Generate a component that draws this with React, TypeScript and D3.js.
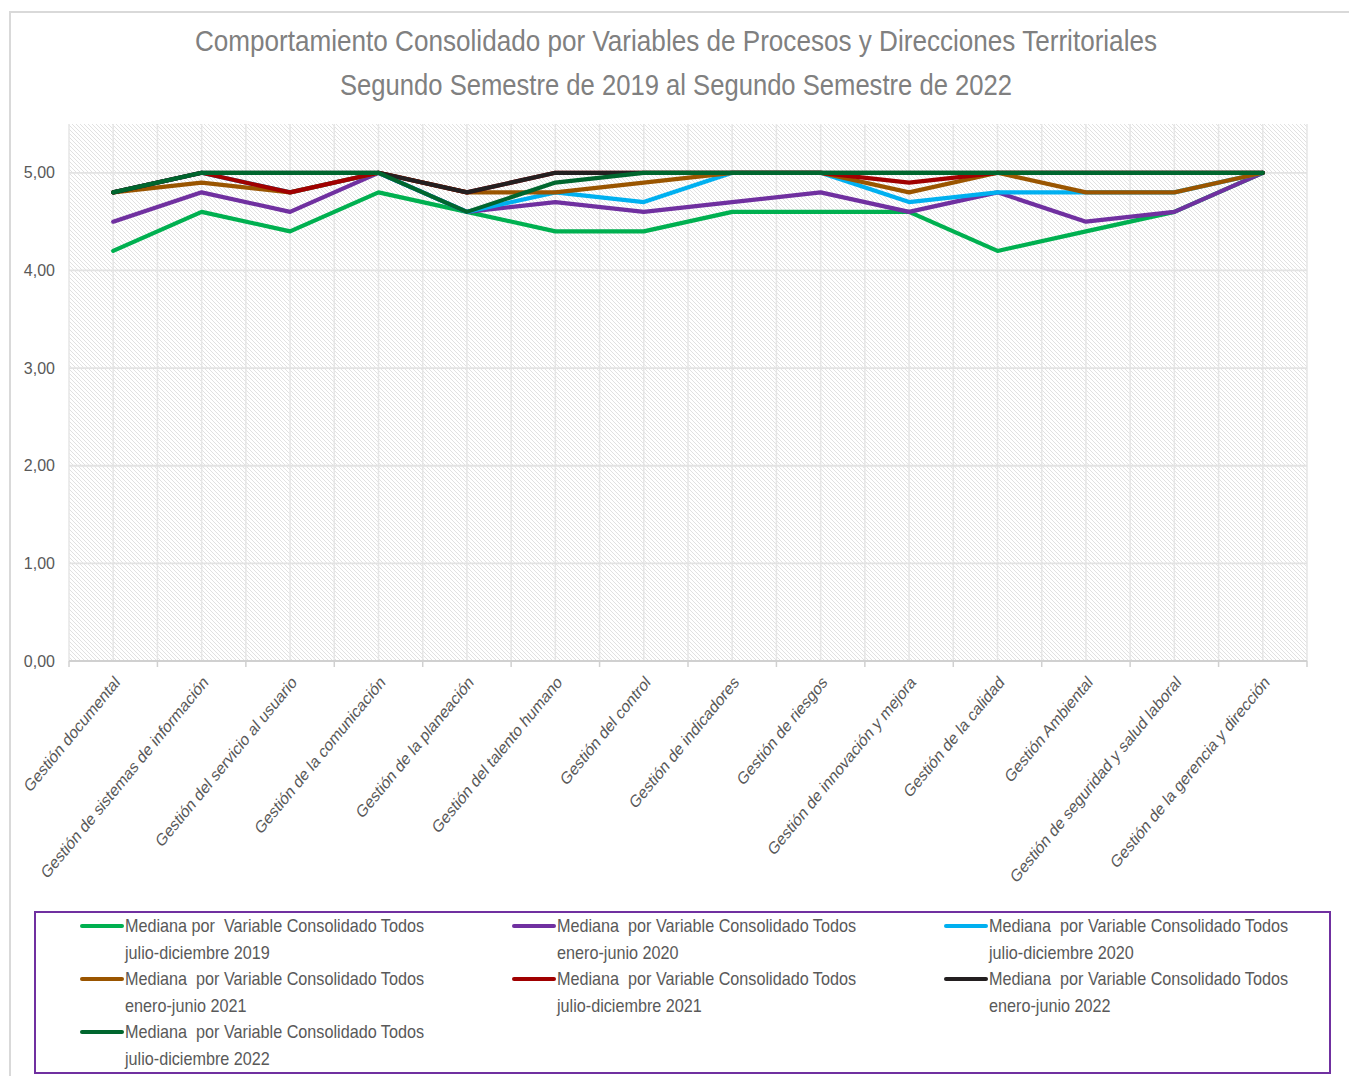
import React from "react";
import * as d3 from "d3";

const categories = [
  "Gestión documental",
  "Gestión de sistemas de información",
  "Gestión del servicio al usuario",
  "Gestión de la comunicación",
  "Gestión de la planeación",
  "Gestión del talento humano",
  "Gestión del control",
  "Gestión de indicadores",
  "Gestión de riesgos",
  "Gestión de innovación y mejora",
  "Gestión de la calidad",
  "Gestión Ambiental",
  "Gestión de seguridad y salud laboral",
  "Gestión de la gerencia y dirección",
];

const yTicks = [0, 1, 2, 3, 4, 5];

const serie2019b = [4.2, 4.6, 4.4, 4.8, 4.6, 4.4, 4.4, 4.6, 4.6, 4.6, 4.2, 4.4, 4.6, 5.0];
const serie2020a = [4.5, 4.8, 4.6, 5.0, 4.6, 4.7, 4.6, 4.7, 4.8, 4.6, 4.8, 4.5, 4.6, 5.0];
const serie2020b = [4.8, 5.0, 4.8, 5.0, 4.6, 4.8, 4.7, 5.0, 5.0, 4.7, 4.8, 4.8, 4.8, 5.0];
const serie2021a = [4.8, 4.9, 4.8, 5.0, 4.8, 4.8, 4.9, 5.0, 5.0, 4.8, 5.0, 4.8, 4.8, 5.0];
const serie2021b = [4.8, 5.0, 4.8, 5.0, 4.8, 5.0, 5.0, 5.0, 5.0, 4.9, 5.0, 5.0, 5.0, 5.0];
const serie2022a = [4.8, 5.0, 5.0, 5.0, 4.8, 5.0, 5.0, 5.0, 5.0, 5.0, 5.0, 5.0, 5.0, 5.0];
const serie2022b = [4.8, 5.0, 5.0, 5.0, 4.6, 4.9, 5.0, 5.0, 5.0, 5.0, 5.0, 5.0, 5.0, 5.0];

const seriesNames = [
  ["Mediana por  Variable Consolidado Todos", "julio-diciembre 2019"],
  ["Mediana  por Variable Consolidado Todos", "enero-junio 2020"],
  ["Mediana  por Variable Consolidado Todos", "julio-diciembre 2020"],
  ["Mediana  por Variable Consolidado Todos", "enero-junio 2021"],
  ["Mediana  por Variable Consolidado Todos", "julio-diciembre 2021"],
  ["Mediana  por Variable Consolidado Todos", "enero-junio 2022"],
  ["Mediana  por Variable Consolidado Todos", "julio-diciembre 2022"],
];
const seriesValues = [serie2019b, serie2020a, serie2020b, serie2021a, serie2021b, serie2022a, serie2022b];
const seriesColors = ["#00B050", "#7030A0", "#00B0F0", "#9A5500", "#A00000", "#231F20", "#00662E"];

const titleLines = [
  "Comportamiento Consolidado por Variables de Procesos y Direcciones Territoriales",
  "Segundo Semestre de 2019 al Segundo Semestre de 2022",
];

const W = 1349;
const H = 1076;
const plot = { left: 69, right: 1307, top: 124, bottom: 661 };

export default function App() {
  const x = d3.scaleBand<string>().domain(categories).range([plot.left, plot.right]).padding(0);
  const bw = x.bandwidth();
  const cx = (c: string) => (x(c) as number) + bw / 2;
  const y = d3.scaleLinear().domain([0, 5.5]).range([plot.bottom, plot.top]);
  const fmt = (v: number) => d3.format(".2f")(v).replace(".", ",");
  const line = d3
    .line<number>()
    .x((_, i) => cx(categories[i]))
    .y((d) => y(d));

  const vGrid: number[] = [];
  categories.forEach((c) => {
    vGrid.push(x(c) as number);
    vGrid.push(cx(c));
  });
  vGrid.push(plot.right);

  const font = "'Liberation Sans', Arial, sans-serif";

  return (
    <svg
      width={W}
      height={H}
      style={{ position: "absolute", left: 0, top: 0, background: "#fff" }}
      fontFamily={font}
    >
      <defs>
        <pattern id="hatch" width="4" height="4" patternUnits="userSpaceOnUse">
          <rect width="4" height="4" fill="#ffffff" />
          <path d="M-1,-1 L5,5 M-1,3 L1,5 M3,-1 L5,1" stroke="#DEDEDE" strokeWidth="0.9" />
        </pattern>
      </defs>
      <rect x={10} y={12} width={W} height={H} fill="#fff" stroke="#D9D9D9" strokeWidth={2} />

      {titleLines.map((t, i) => (
        <text
          key={i}
          x={676}
          y={51 + i * 44}
          textAnchor="middle"
          fontSize={29}
          fill="#808080"
          textLength={i === 0 ? 962 : 672}
          lengthAdjust="spacingAndGlyphs"
        >
          {t}
        </text>
      ))}

      <rect
        x={plot.left}
        y={plot.top}
        width={plot.right - plot.left}
        height={plot.bottom - plot.top}
        fill="url(#hatch)"
      />
      {vGrid.map((gx, i) => (
        <line key={"v" + i} x1={gx} x2={gx} y1={plot.top} y2={plot.bottom} stroke="#E6E6E6" strokeWidth={1.5} />
      ))}
      {yTicks.map((t) => (
        <line key={"h" + t} x1={plot.left} x2={plot.right} y1={y(t)} y2={y(t)} stroke="#E3E3E3" strokeWidth={1.8} />
      ))}
      <line x1={plot.left} x2={plot.right} y1={plot.bottom} y2={plot.bottom} stroke="#D0D0D0" strokeWidth={1.8} />
      {categories.map((c) => (
        <line key={"t" + c} x1={x(c) as number} x2={x(c) as number} y1={plot.bottom} y2={plot.bottom + 6} stroke="#D0D0D0" strokeWidth={1.5} />
      ))}
      <line x1={plot.right} x2={plot.right} y1={plot.bottom} y2={plot.bottom + 6} stroke="#D0D0D0" strokeWidth={1.5} />

      {yTicks.map((t) => (
        <text key={"yl" + t} x={55} y={y(t)} dy="0.35em" textAnchor="end" fontSize={16} fill="#595959">
          {fmt(t)}
        </text>
      ))}

      {categories.map((c) => (
        <g key={"xl" + c} transform={`translate(${cx(c) + 4},${plot.bottom + 18}) scale(0.826,1) rotate(-45)`}>
          <text x={0} y={0} dy="0.35em" textAnchor="end" fontSize={17.5} fill="#595959">
            {c}
          </text>
        </g>
      ))}

      {seriesValues.map((vals, i) => (
        <path
          key={"s" + i}
          d={line(vals) || ""}
          fill="none"
          stroke={seriesColors[i]}
          strokeWidth={4.2}
          strokeLinejoin="round"
          strokeLinecap="round"
        />
      ))}

      <rect x={35} y={912} width={1295} height={161} fill="none" stroke="#7030A0" strokeWidth={2} />
      {seriesNames.map((nm, i) => {
        const col = i % 3;
        const row = Math.floor(i / 3);
        const lx = 82 + col * 432;
        const ly = 926 + row * 53;
        return (
          <g key={"lg" + i}>
            <line x1={lx} x2={lx + 40} y1={ly} y2={ly} stroke={seriesColors[i]} strokeWidth={4} strokeLinecap="round" />
            {nm.map((t, j) => (
              <g key={j} transform={`translate(${lx + 43},${ly + j * 27}) scale(0.9,1)`}>
                <text x={0} y={0} dy="0.35em" fontSize={18} fill="#595959" style={{ whiteSpace: "pre" }}>
                  {t}
                </text>
              </g>
            ))}
          </g>
        );
      })}
    </svg>
  );
}
